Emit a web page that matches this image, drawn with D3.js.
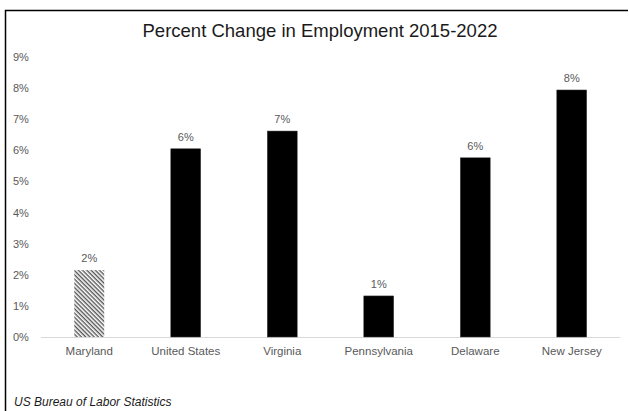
<!DOCTYPE html>
<html><head><meta charset="utf-8">
<script src="https://cdn.jsdelivr.net/npm/d3@7"></script>
<style>body{margin:0;background:#fff;}svg{display:block;font-family:"Liberation Sans",Arial,sans-serif;}</style>
</head><body>
<script>
const categories = ["Maryland","United States","Virginia","Pennsylvania","Delaware","New Jersey"];
const values = [2.15, 6.05, 6.62, 1.32, 5.76, 7.94];
const yTicks = [0,1,2,3,4,5,6,7,8,9];
const title = "Percent Change in Employment 2015-2022";
const source = "US Bureau of Labor Statistics";

const W = 629, H = 411;
const svg = d3.select("body").append("svg").attr("width", W).attr("height", H);

const defs = svg.append("defs");
const pat = defs.append("pattern").attr("id","hatch").attr("patternUnits","userSpaceOnUse")
  .attr("width",3).attr("height",3).attr("patternTransform","rotate(45)");
pat.append("rect").attr("width",3).attr("height",3).attr("fill","#fff");
pat.append("rect").attr("width",3).attr("height",1.4).attr("fill","#555");

// frame
svg.append("path").attr("d","M5.5,411 L5.5,10.5 L628,10.5").attr("fill","none").attr("stroke","#000").attr("stroke-width",1.5);

const x = d3.scaleBand().domain(categories).range([41, 620]).paddingInner(0.69).paddingOuter(0.345);
const y = d3.scaleLinear().domain([0, 9]).range([337, 57]);

svg.append("text").attr("x", 320).attr("y", 37).attr("text-anchor","middle")
  .attr("font-size", 18.5).attr("fill","#1a1a1a").attr("textLength", 355).attr("lengthAdjust","spacingAndGlyphs").text(title);

// y tick labels
svg.append("g").selectAll("text").data(yTicks).join("text")
  .attr("x", 13).attr("y", d => y(d) + 4).attr("font-size", 11).attr("fill","#595959")
  .text(d => d + "%");

// baseline
svg.append("line").attr("x1", 41).attr("x2", 620).attr("y1", y(0)+0.5).attr("y2", y(0)+0.5)
  .attr("stroke","#d9d9d9").attr("stroke-width",1);

// bars
svg.append("g").selectAll("rect").data(categories).join("rect")
  .attr("x", d => x(d)).attr("width", x.bandwidth())
  .attr("y", (d,i) => y(values[i])).attr("height", (d,i) => y(0) - y(values[i]))
  .attr("fill", (d,i) => i === 0 ? "url(#hatch)" : "#000")
  .attr("stroke", (d,i) => i === 0 ? "none" : "#404040").attr("stroke-width", 0.5);

// value labels
svg.append("g").selectAll("text").data(categories).join("text")
  .attr("x", d => x(d) + x.bandwidth()/2).attr("y", (d,i) => y(values[i]) - 8)
  .attr("text-anchor","middle").attr("font-size", 11).attr("fill","#595959")
  .text((d,i) => Math.round(values[i]) + "%");

// category labels
svg.append("g").selectAll("text").data(categories).join("text")
  .attr("x", d => x(d) + x.bandwidth()/2).attr("y", 355)
  .attr("text-anchor","middle").attr("font-size", 11.5).attr("fill","#595959")
  .text(d => d);

svg.append("text").attr("x", 14).attr("y", 406).attr("font-size", 12).attr("font-style","italic")
  .attr("fill","#1a1a1a").text(source);
</script>
</body></html>
